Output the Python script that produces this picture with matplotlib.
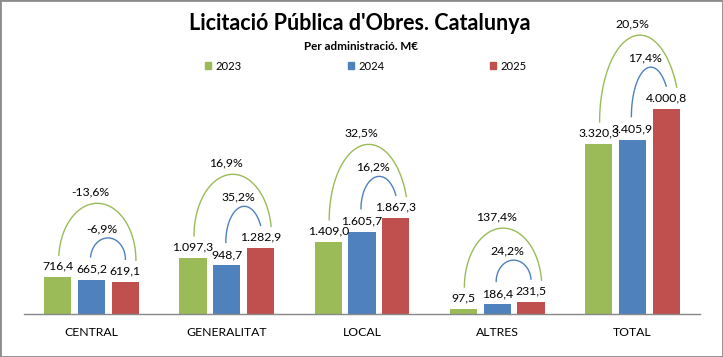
import numpy as np
import matplotlib
matplotlib.use("Agg")
import matplotlib.pyplot as plt
from matplotlib.patches import Patch, Rectangle

# data (M€)
categories = ["CENTRAL", "GENERALITAT", "LOCAL", "ALTRES", "TOTAL"]
years = ["2023", "2024", "2025"]
v2023 = [716.4, 1097.3, 1409.0, 97.5, 3320.3]
v2024 = [665.2, 948.7, 1605.7, 186.4, 3405.9]
v2025 = [619.1, 1282.9, 1867.3, 231.5, 4000.8]
# variation labels as printed on the chart
pct_23_25 = ["-13,6%", "16,9%", "32,5%", "137,4%", "20,5%"]
pct_24_25 = ["-6,9%", "35,2%", "16,2%", "24,2%", "17,4%"]
colors = ["#9BBB59", "#4F81BD", "#C0504D"]

plt.rcParams['font.family'] = ['Lato', 'DejaVu Sans']


def fmt(v, dec=1):
    # catalan number format: 1.234,5
    s = f"{v:,.{dec}f}"
    return s.replace(",", "X").replace(".", ",").replace("X", ".")


W, H = 723, 357
fig = plt.figure(figsize=(W / 100, H / 100), dpi=100)
ax_w, ax_h = 676, 230.4
ax = fig.add_axes([24 / W, 43 / H, ax_w / W, ax_h / H])

ymax = 4500
x = np.arange(len(categories))
bw = 0.2
off = 0.25
series = [v2023, v2024, v2025]

for k, (vals, c) in enumerate(zip(series, colors)):
    ax.bar(x + (k - 1) * off, vals, width=bw, color=c, zorder=2)

ax.set_xlim(-0.5, len(categories) - 0.5)
ax.set_ylim(0, ymax)

# data units per pixel
ux = len(categories) / ax_w
uy = ymax / ax_h

lab_fs = 8.8

# value labels
for k, vals in enumerate(series):
    for i, v in enumerate(vals):
        ax.text(x[i] + (k - 1) * off, v + 11 * uy, fmt(v), ha='center', va='center',
                fontsize=lab_fs, color='#000000')


def arc(xa, ya, xb, yb, peak, color):
    # elliptical arc (like an Excel arc shape) between two points, worked in pixels
    xa, xb = xa / ux, xb / ux
    ya, yb = ya / uy, yb / uy
    yc = min(ya, yb)
    b = max(ya, yb) + peak - yc
    phi_a = np.arcsin((ya - yc) / b)
    phi_b = np.arcsin((yb - yc) / b)
    a = (xb - xa) / (np.cos(phi_a) + np.cos(phi_b))
    xc = xa + a * np.cos(phi_a)
    t = np.linspace(phi_b, np.pi - phi_a, 100)
    xs = xc + a * np.cos(t)
    ys = yc + b * np.sin(t)
    ax.plot(xs * ux, ys * uy, color=color, lw=1.0, zorder=3, clip_on=False)
    return xc * ux, (yc + b) * uy


# growth arcs: 2023 -> 2025 (green) and 2024 -> 2025 (blue)
for i in range(len(categories)):
    g, b, r = v2023[i], v2024[i], v2025[i]
    xc, top = arc(x[i] - off + 1 * ux, g + 22 * uy, x[i] + off + bw / 2 - 3 * ux, r + 22 * uy,
                  52, colors[0])
    ax.text(xc - 7 * ux, top + 11 * uy, pct_23_25[i], ha='center', va='center', fontsize=lab_fs)
    xc, top = arc(x[i] - 1 * ux, b + 23 * uy, x[i] + off, r + 23 * uy, 19, colors[1])
    ax.text(xc - 6 * ux, top + 9 * uy, pct_24_25[i], ha='center', va='center', fontsize=lab_fs)

for sp in ['top', 'left', 'right']:
    ax.spines[sp].set_visible(False)
ax.spines['bottom'].set_color('#888888')
ax.spines['bottom'].set_linewidth(1.0)
ax.set_yticks([])
ax.set_xticks(x)
ax.set_xticklabels(categories, fontsize=lab_fs)
ax.tick_params(axis='x', length=0, pad=9.5)
ax.patch.set_visible(False)

# titles
fig.text(360 / W, 1 - 24 / H, "Licitació Pública d'Obres. Catalunya", ha='center', va='center',
         fontsize=15.5, fontweight='bold')
fig.text(361 / W, 1 - 46 / H, "Per administració. M€", ha='center', va='center',
         fontsize=8.4, fontweight='bold')

handles = [Patch(color=c, label=y) for c, y in zip(colors, years)]
fig.legend(handles=handles, loc='center', bbox_to_anchor=(366 / W, 1 - 66 / H), ncol=3,
           frameon=False, handlelength=0.55, handleheight=0.55, handletextpad=0.4,
           columnspacing=9.4, fontsize=8.1, borderaxespad=0)

fig.patches.append(Rectangle((0, 0), 1, 1, transform=fig.transFigure, fill=False,
                             ec='#8c8c8c', lw=2))

fig.savefig("out.png", dpi=100)
